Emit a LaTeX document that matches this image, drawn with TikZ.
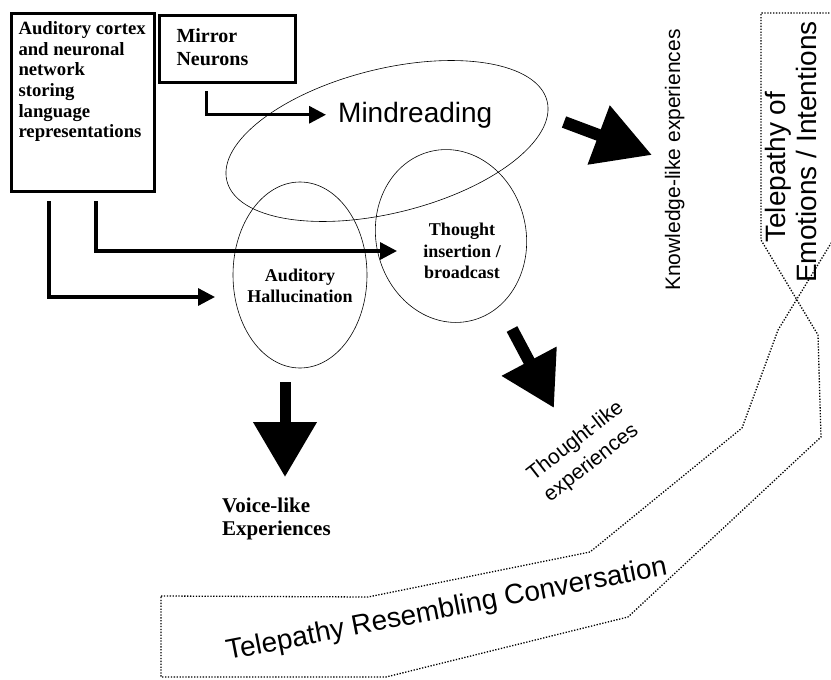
\documentclass[tikz,border=0pt]{standalone}
\usepackage{fontspec}
\setmainfont{Liberation Serif}
\setsansfont{Liberation Sans}
\usetikzlibrary{arrows.meta,positioning}
\usetikzlibrary{shapes.geometric}

\begin{document}
\begin{tikzpicture}[x=1pt,y=-1pt,
        boxnode/.style={draw, line width=3pt, anchor=north west, inner ysep=0pt},
        bubble/.style={draw, ellipse, line width=0.6pt, inner sep=0pt},
        flow/.style={line width=3.3pt, -{Triangle[length=17pt,width=17pt]}},
        bigflow/.style={line width=12pt},
        zone/.style={line width=1.3pt, dash pattern=on 1.3pt off 1.6pt},
        seriftext/.style={inner sep=0pt, font=\fontsize{18}{21}\selectfont\bfseries},
        sanstext/.style={inner sep=0pt, font=\fontsize{#1}{#1}\selectfont\sffamily}]

        \useasboundingbox (0,0) rectangle (831,680);
        \clip (0,0) rectangle (831,680);

        % Define boxes
        \node[boxnode, inner xsep=7pt] (cortex) at (10,12) {\begin{minipage}[t][178pt][t]{129pt}\raggedright
            \fontsize{18.7}{20.7}\selectfont\bfseries\vspace*{8pt}Auditory cortex\\ and neuronal\\ network\\ storing\\ language\\ representations\end{minipage}};
        \node[boxnode, inner xsep=17pt] (mirror) at (158,14) {\begin{minipage}[t][67pt][t]{102pt}\raggedright
            \fontsize{20}{23}\selectfont\bfseries\vspace*{13pt}Mirror\\ Neurons\end{minipage}};

        % Define ellipses
        \node[bubble, minimum width=330pt, minimum height=144pt, rotate=14] (mindring) at (387,141) {};
        \node[bubble, minimum width=134pt, minimum height=186pt] (hallring) at (300,275) {};
        \node[bubble, minimum width=150pt, minimum height=174pt, rotate=13] (thoughtring) at (451,236) {};

        \node[sanstext=28, anchor=base west] (mindtext) at (338,122) {Mindreading};
        \node[seriftext, align=center] (halltext) at (300,286) {Auditory\\Hallucination};
        \node[seriftext, align=center, font=\fontsize{18}{21.5}\selectfont\bfseries] (thoughttext) at (462,251) {Thought\\insertion /\\broadcast};
        \node[seriftext, align=left, anchor=north west, font=\fontsize{21}{23}\selectfont\bfseries] (voicetext) at (222,498) {Voice-like\\Experiences};
        \node[sanstext=21, anchor=base west, rotate=90] (knowtext) at (680,291) {Knowledge-like experiences};
        \node[sanstext=21, align=left, rotate=38, font=\fontsize{21}{27}\selectfont\sffamily] (thoughtlike) at (584,452) {Thought-like\\experiences};
        \node[sanstext=28, anchor=base west, rotate=90] (emotionsA) at (785,243) {Telepathy of};
        \node[sanstext=28, anchor=base west, rotate=90] (emotionsB) at (816,283) {Emotions / Intentions};
        \node[sanstext=28, anchor=base west, rotate=11] (convtext) at (228,660) {Telepathy Resembling Conversation};

        % Thin arrows
        \coordinate (mirrorout) at ([xshift=-21pt,yshift=-7pt]mirror.south);
        \coordinate (cortexoutA) at ([xshift=39pt,yshift=-8pt]cortex.south west);
        \coordinate (cortexoutB) at ([xshift=86pt,yshift=-8pt]cortex.south west);
        \coordinate (hallin) at (215,297);
        \coordinate (thoughtin) at (397,251);
        \draw[flow, shorten >=12pt] (mirrorout) |- (mindtext.west);
        \draw[flow] (cortexoutA) |- (hallin);
        \draw[flow] (cortexoutB) |- (thoughtin);

        % Block arrows
        \coordinate (knowfrom) at (564,122);
        \coordinate (knowto) at (652,155);
        \coordinate (thinkfrom) at (512,329);
        \coordinate (thinkto) at (554,408);
        \coordinate (voicefrom) at (285,382);
        \coordinate (voiceto) at (285,477);
        \draw[bigflow, -{Triangle[length=57pt,width=60pt]}] (knowfrom) -- (knowto);
        \draw[bigflow, -{Triangle[length=53pt,width=59pt]}] (thinkfrom) -- (thinkto);
        \draw[bigflow, line width=11pt, -{Triangle[length=55pt,width=61pt]}] (voicefrom) -- (voiceto);

        % Dotted outline
        \draw[zone] (161,596) -- (368,597) -- (590,552) -- (742,428) -- (778,330) -- (833,240) -- (833,13)
            -- (761,13) -- (761,240) -- (818,335) -- (821,437) -- (628,617) -- (386,677) -- (161,677) -- cycle;
    \end{tikzpicture}
\end{document}
